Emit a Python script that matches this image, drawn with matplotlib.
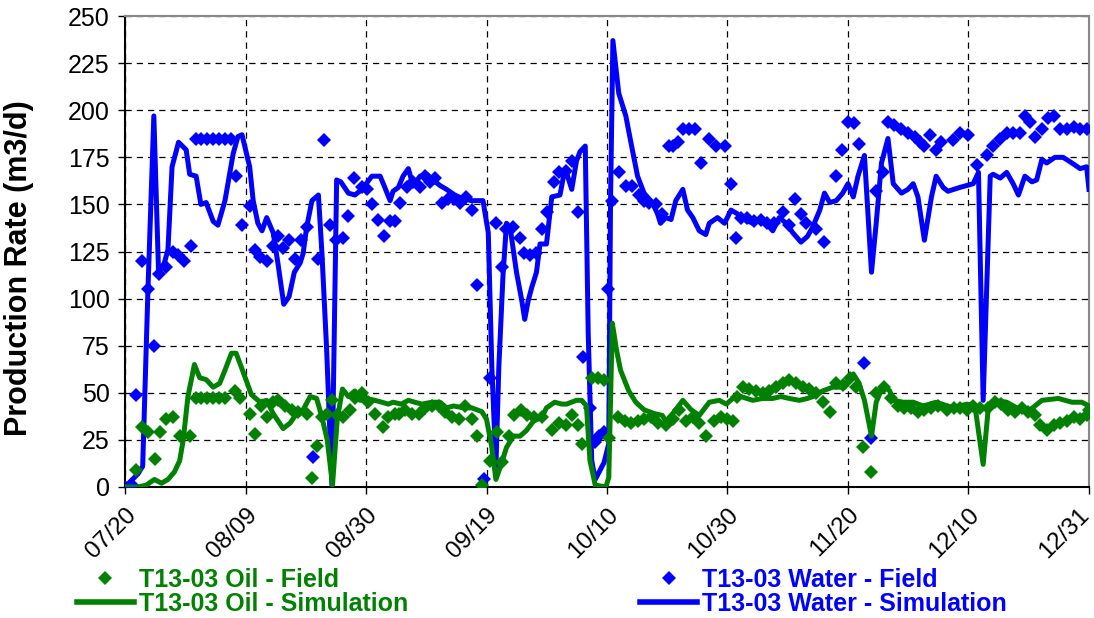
import matplotlib
matplotlib.use("Agg")
import matplotlib.pyplot as plt
import matplotlib.transforms as mtransforms
from matplotlib.lines import Line2D

# days counted from 07/20
tick_labels = ["07/20", "08/09", "08/30", "09/19", "10/10", "10/30", "11/20", "12/10", "12/31"]
x_max = 164

# T13-03 water - simulation
water_sim_day = [0, 2.2, 3, 3.9, 4.9, 5.7, 6.7, 7.3, 8, 9.1, 10.4, 11, 12.1, 12.9, 13.8, 15, 15.8, 17,
                 18.4, 19.2, 19.9, 21.2, 21.8, 22.6, 23.3, 24.1, 25.2, 26, 27, 27.9, 28.8, 29.8, 30.3,
                 30.9, 31.8, 32.9, 33.5, 34.3, 35.2, 36, 36.7, 38, 39.1, 40.3, 42, 43.4, 44.2, 45.1,
                 45.6, 46.5, 47.3, 48.2, 49, 50.2, 51.3, 52.4, 53.6, 54.7, 56.1, 57.5, 59, 60.9, 61.8,
                 62.4, 63.1, 63.6, 64.3, 64.9, 65.5, 66.6, 67.5, 68, 68.6, 69.2, 70, 70.6, 71.7, 72.6,
                 74, 74.6, 75.1, 76, 76.8, 77.4, 78.3, 78.8, 79.4, 80, 81.5, 82.3, 82.6, 83, 84, 85.2,
                 86, 87.2, 88.3, 89.7, 90.6, 91.1, 92, 92.9, 93.7, 94.9, 95.7, 96.6, 97.7, 98.8, 99.4,
                 100.8, 102, 103.1, 104.2, 105.4, 106.8, 108.5, 110.2, 111.3, 112.5, 113.6, 115, 116.1,
                 117, 118.2, 119, 119.9, 121, 122.1, 123, 123.9, 124.7, 125.8, 127, 127.8, 128.7,
                 129.8, 130.7, 132.1, 133.2, 134.1, 134.9, 136, 137.2, 138, 139.2, 140, 142, 144.3,
                 145.2, 146, 147.2, 147.7, 148.9, 150, 151.1, 152, 153.1, 154.3, 155.1, 156, 156.8,
                 158.2, 159.6, 161.1, 162.5, 163.6, 164]
water_sim_rate = [0, 7, 11, 105, 197, 114, 119, 126, 170, 183, 179, 166, 165, 150, 151, 141, 139, 152,
                  177, 186, 187, 170, 152, 140, 136, 143, 135, 119, 97, 101, 114, 119, 124,
                  138, 152, 155, 124, 73, 1, 163, 162, 156, 155, 158, 165, 165, 159, 152,
                  157, 159, 165, 169, 160, 165, 166, 163, 160, 158, 155, 153, 152, 152, 135,
                  64, 11, 64, 112, 140, 138, 114, 99, 89, 99, 106, 114, 129, 129, 154,
                  155, 165, 167, 158, 173, 178, 181, 82, 14, 4, 13, 23, 152, 237, 209, 197,
                  184, 165, 156, 151, 145, 140, 143, 142, 152, 158, 147, 143, 136, 134, 140,
                  143, 140, 147, 145, 142, 140, 142, 136, 143, 140, 135, 130, 133,
                  138, 147, 156, 151, 152, 156, 161, 154, 165, 176, 114, 140, 172,
                  185, 161, 156, 158, 161, 154, 131, 154, 165, 159, 157, 159, 161,
                  167, 46, 165, 166, 164, 167, 161, 155, 165, 162, 163, 174, 172,
                  175, 175, 172, 169, 170, 158]

# T13-03 water - field
water_field_day = [0, 1.1, 1.9, 2.8, 3.9, 4.9, 5.7, 7, 8.2, 9, 10.1, 11.2, 12, 13, 14, 15, 16, 17, 18,
                   18.9, 19.9, 21.2, 22.1, 23, 24.1, 25.2, 26, 26.9, 27.9, 28.9, 30, 31, 32, 32.9,
                   33.9, 34.9, 35.9, 37.1, 38, 39, 40.3, 41.1, 42.1, 43.1, 44, 45.1, 45.9, 46.8,
                   47.9, 49, 50.2, 51, 51.9, 52.7, 53.9, 55, 55.9, 57, 58, 59, 59.8, 61, 62.1, 63.1,
                   64.1, 64.9, 66, 67.2, 67.9, 68.9, 70, 71, 71.8, 72.9, 73.8, 75, 76, 77.1, 78,
                   79.1, 79.9, 80.7, 81.5, 82.1, 82.9, 84, 85.2, 86.3, 87.4, 88.3, 89.1, 90.3, 91.4,
                   92.5, 93.2, 94, 94.9, 96, 97, 98, 99.4, 100.5, 102, 103.1, 104, 104.8, 105.9, 107,
                   108.2, 109.3, 110.4, 111.9, 113, 113.9, 115, 115.9, 117.6, 119, 121, 122, 123,
                   124.1, 124.9, 125.8, 127, 127.8, 129, 129.8, 130.9, 132.1, 133.2, 134.4, 135.2,
                   136, 136.9, 138, 138.9, 140.9, 142, 143.5, 144.9, 146.6, 147.7, 148.9, 150,
                   151.1, 152.3, 153.1, 154, 154.8, 156, 157.1, 158, 159.1, 160.3, 161.4, 162.5,
                   163.6]
water_field_rate = [0, 1, 49, 120, 105, 75, 113, 117, 125, 123, 120, 128, 185, 185, 185, 185, 185, 185, 185,
                    165, 139, 149, 126, 122, 120, 128, 133, 127, 131, 121, 131, 138, 16, 121,
                    184, 139, 131, 132, 144, 164, 159, 158, 150, 142, 133, 141, 141, 151,
                    159, 162, 159, 165, 162, 164, 151, 153, 153, 151, 154, 147, 107, 4, 58, 140,
                    117, 137, 138, 132, 124, 123, 124, 137, 146, 162, 167, 168, 173, 146, 69,
                    42, 24, 27, 29, 105, 152, 167, 160, 160, 155, 152, 151, 150, 145,
                    181, 181, 183, 190, 190, 190, 172, 185, 181, 181, 161, 132, 143, 143, 141,
                    142, 140, 140, 146, 139, 153, 145, 140, 137, 130, 165, 179, 194,
                    193, 182, 66, 26, 157, 167, 194, 192, 190, 188, 186, 183,
                    181, 187, 179, 183, 184, 188, 187, 171, 176, 181, 185, 188,
                    188, 188, 197, 194, 186, 190, 196, 197, 190, 190, 191, 190,
                    190]

# T13-03 oil - simulation
oil_sim_day = [0, 2.2, 3.6, 5, 6.2, 7.3, 8.4, 9.3, 9.9, 10.7, 11.8, 12.7, 13.8, 15, 16.1, 17, 18.1,
               18.9, 20.1, 21.5, 23, 24.1, 25.2, 26.9, 28.1, 29.2, 30.3, 31.5, 32.6, 33.5, 34.4, 35.3,
               36.1, 37, 38, 39.1, 40, 41.1, 42.5, 43.7, 44.8, 45.6, 47, 48.2, 49.3, 50.5, 52.2, 53.6,
               54.7, 55.9, 57.6, 59, 60.7, 61.5, 62.4, 63.1, 64.1, 64.9, 66.1, 67.2, 68.3, 69.5, 70.9,
               71.7, 73.1, 74.3, 75.1, 76.8, 77.7, 78.5, 79.1, 80, 81.8, 82.3, 82.9, 83.6, 84.3, 85.7,
               86.9, 88.3, 90, 91.4, 92, 93.2, 94.9, 96.3, 97.7, 99.4, 101.1, 102.3, 103.4, 104.8,
               106.8, 108.5, 110.2, 111.6, 113, 114.7, 116.1, 117, 118.7, 120.4, 122.4, 123.9, 124.9,
               125.8, 127, 127.8, 129, 130.1, 130.7, 132.4, 134.1, 135.8, 138, 140.9, 143.2, 144.6,
               146, 146.9, 148, 150, 152.3, 154, 156, 158.8, 161.1, 162.8, 164]
oil_sim_rate = [0, 0, 1, 4, 2, 4, 8, 14, 25, 48, 65, 58, 57, 53, 55, 62, 71,
                71, 61, 49, 45, 46, 39, 31, 34, 39, 41, 48, 47, 37, 25, 1,
                36, 52, 48, 51, 46, 47, 46, 45, 44, 45, 44, 46, 45, 44, 45, 45,
                42, 43, 42, 42, 40, 36, 21, 4, 13, 21, 27, 27, 30, 35, 37,
                42, 45, 44, 44, 46, 46, 43, 14, 1, 0, 5, 87, 73, 62, 51,
                45, 41, 39, 38, 35, 39, 46, 41, 38, 45, 46, 44, 47, 48,
                46, 47, 47, 48, 47, 46, 47, 48, 51, 53, 53, 60, 55,
                46, 27, 45, 54, 51, 46, 45, 45, 43, 45, 42, 44, 43,
                12, 43, 46, 45, 41, 41, 46, 47, 45, 45, 43]

# T13-03 oil - field
oil_field_day = [1.9, 2.8, 3.9, 5.1, 5.9, 7, 8.2, 9.3, 11, 12, 13, 14, 15, 16, 17, 18.7, 19.5, 21.2,
                 22.1, 23.1, 24.1, 25.1, 26.1, 27.2, 28.4, 29.5, 30.9, 31.8, 32.6, 33.5, 34.3, 35.2,
                 36, 37.1, 38.3, 39.1, 40.3, 41.4, 42.5, 43.9, 44.8, 45.9, 46.6, 47.7, 48.8, 50,
                 51.1, 52.2, 53.4, 54.5, 55.6, 56.8, 57.9, 59, 59.9, 60.7, 62.1, 63.3, 64.1, 65.3,
                 66.1, 67.3, 68.4, 69.6, 71, 72.7, 73.8, 75, 76.1, 77, 77.8, 79.5, 80.4, 81.5, 82.3,
                 83.8, 85, 86, 87.2, 88.3, 89.4, 90.6, 92, 93.2, 94.3, 95.4, 96.6, 97.7, 98.8,
                 100.2, 101.4, 102.5, 103.4, 104.2, 105.1, 106.2, 107.4, 108.5, 109.6, 110.8,
                 111.9, 113, 114.2, 115.3, 116.4, 117.6, 118.7, 119.9, 121, 122.1, 123.3, 124.4,
                 125.5, 127, 127.8, 129.2, 130.4, 131.5, 132.6, 133.7, 134.9, 136, 137.2, 138.3,
                 139.8, 141, 142, 143.2, 144.3, 145.5, 146.9, 148, 149.1, 150.3, 151.4, 152.6,
                 153.7, 154.8, 155.7, 156.8, 158, 159.1, 160.3, 161.4, 162.5, 163.6, 164]
oil_field_rate = [9, 32, 29, 15, 29, 36, 37, 27, 27, 47, 47, 47, 47, 47, 47, 51, 47, 39,
                  28, 43, 37, 45, 46, 43, 41, 40, 39, 5, 22, 37, 39, 46,
                  38, 37, 41, 47, 50, 45, 39, 32, 37, 39, 39, 41, 39, 39,
                  42, 43, 43, 40, 37, 36, 43, 36, 27, 1, 14, 29, 13, 27,
                  38, 41, 38, 37, 37, 30, 34, 33, 38, 33, 23, 58, 58, 57, 26,
                  37, 35, 34, 35, 36, 37, 34, 33, 36, 41, 35, 37, 34, 27,
                  35, 37, 36, 35, 48, 53, 52, 51, 50, 51, 53,
                  55, 57, 55, 53, 52, 50, 45, 40, 55, 54, 58, 53,
                  21, 8, 50, 53, 47, 43, 42, 42, 40, 41, 42, 43,
                  41, 42, 42, 41, 43, 42, 42, 45, 44, 41, 40, 42,
                  40, 38, 33, 30, 33, 34, 35, 37, 36, 38, 41]

GREEN = "#008000"
BLUE = "#0000FF"

plt.rcParams["font.family"] = ["Liberation Sans", "DejaVu Sans"]

fig = plt.figure(figsize=(10.94, 6.18), dpi=100)
ax = fig.add_axes([0.1143, 0.212, 0.8811, 0.762])

ax.plot(water_sim_day, water_sim_rate, color=BLUE, lw=3.6, zorder=3)
ax.plot(water_field_day, water_field_rate, "D", color=BLUE, ms=7, mew=0, zorder=4)
ax.plot(oil_sim_day, oil_sim_rate, color=GREEN, lw=3.6, zorder=5)
ax.plot(oil_field_day, oil_field_rate, "D", color=GREEN, ms=7, mew=0, zorder=6)

ax.set_xlim(0, x_max)
ax.set_ylim(0, 250)
ax.set_xticks([x_max * i / 8 for i in range(9)])
ax.set_xticklabels(tick_labels, rotation=45, ha="right", rotation_mode="anchor")
ax.set_yticks(range(0, 251, 25))
ax.tick_params(axis="y", labelsize=18)
ax.tick_params(axis="x", labelsize=17.5)
ax.tick_params(axis="both", direction="out", length=5, width=1)
ax.tick_params(axis="x", pad=7)
ax.tick_params(axis="y", pad=6)
# keep the last date inside the figure edge
last = ax.get_xticklabels()[-1]
last.set_transform(last.get_transform() +
                   mtransforms.ScaledTranslation(-11 / 100, 0, fig.dpi_scale_trans))

ax.set_ylabel("Production Rate (m3/d)", fontsize=22, fontweight="bold")
ax.yaxis.set_label_coords(-0.094, 0.465)

ax.grid(True, color="black", ls=(0, (5, 4)), lw=0.9)
ax.set_axisbelow(True)
for side in ["top", "right"]:
    ax.spines[side].set_color("#888888")
    ax.spines[side].set_linewidth(1.5)
for side in ["left", "bottom"]:
    ax.spines[side].set_color("black")
    ax.spines[side].set_linewidth(1.5)

# two legend columns under the axes
oil_handles = [Line2D([], [], ls="none", marker="D", color=GREEN, ms=7, mew=0),
               Line2D([], [], color=GREEN, lw=4)]
water_handles = [Line2D([], [], ls="none", marker="D", color=BLUE, ms=7, mew=0),
                 Line2D([], [], color=BLUE, lw=4)]
leg_kw = dict(frameon=False, prop={"weight": "bold", "size": 18},
              handlelength=2.3, handletextpad=0.2, labelspacing=0.0, borderpad=0,
              borderaxespad=0, loc="upper left")
leg1 = fig.legend(oil_handles, ["T13-03 Oil - Field", "T13-03 Oil - Simulation"],
                  bbox_to_anchor=(0.070, 0.081), **leg_kw)
leg2 = fig.legend(water_handles, ["T13-03 Water - Field", "T13-03 Water - Simulation"],
                  bbox_to_anchor=(0.585, 0.081), **leg_kw)
for t in leg1.get_texts():
    t.set_color(GREEN)
for t in leg2.get_texts():
    t.set_color(BLUE)

fig.savefig("out.png", dpi=100)
